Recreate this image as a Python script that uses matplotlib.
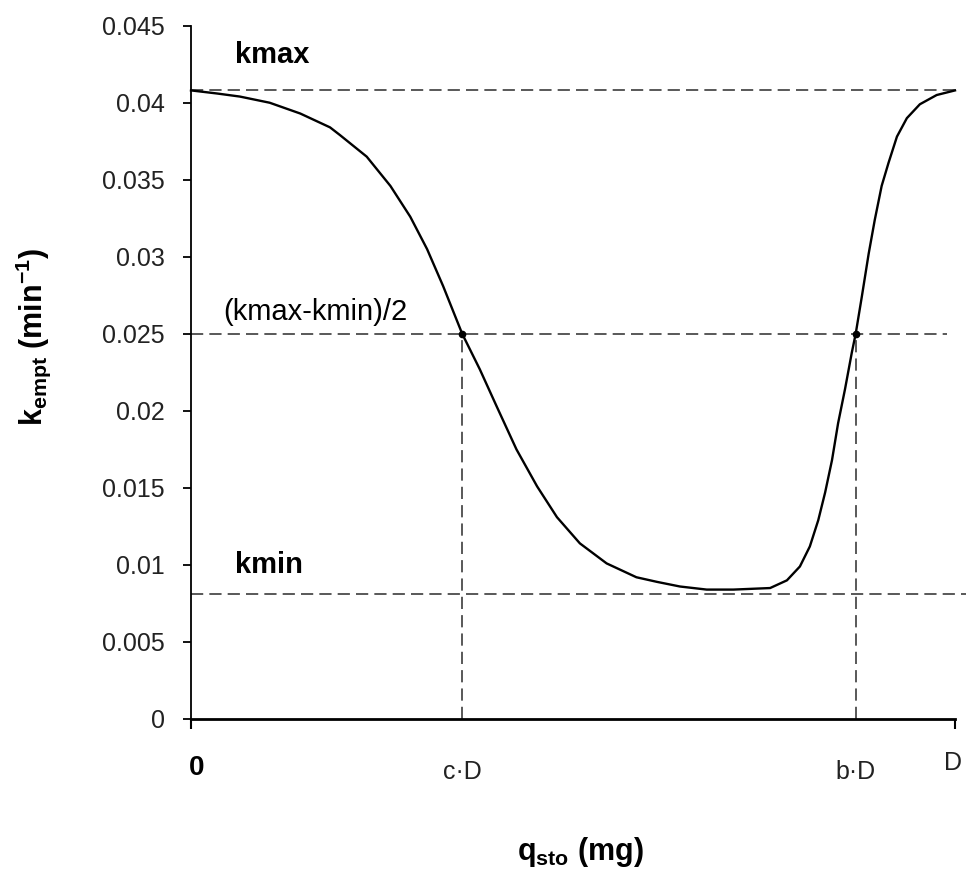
import matplotlib
matplotlib.use("Agg")
import matplotlib.pyplot as plt

plt.rcParams['font.family'] = ['Liberation Sans', 'DejaVu Sans']
plt.rcParams['mathtext.fontset'] = 'custom'
plt.rcParams['mathtext.rm'] = 'Liberation Sans:bold'
plt.rcParams['mathtext.bf'] = 'Liberation Sans:bold'
plt.rcParams['mathtext.default'] = 'rm'

# values, x as a fraction of D
q_frac = [0.000, 0.034, 0.064, 0.103, 0.143, 0.182, 0.195, 0.230, 0.261, 0.287,
          0.309, 0.330, 0.355, 0.378, 0.400, 0.426, 0.453, 0.479, 0.509, 0.544,
          0.583, 0.610, 0.640, 0.675, 0.710, 0.758, 0.780, 0.797, 0.810, 0.821,
          0.830, 0.839, 0.847, 0.856, 0.865, 0.870, 0.878, 0.887, 0.895, 0.904,
          0.913, 0.924, 0.937, 0.954, 0.976, 1.000]
k_empt = [0.0408, 0.0406, 0.0404, 0.0400, 0.0393, 0.0384, 0.0379, 0.0365, 0.0346, 0.0326,
          0.0305, 0.0281, 0.0250, 0.0227, 0.0203, 0.0175, 0.0151, 0.0131, 0.0114, 0.0101,
          0.0092, 0.0089, 0.0086, 0.0084, 0.0084, 0.0085, 0.0090, 0.0099, 0.0112, 0.0129,
          0.0147, 0.0168, 0.0192, 0.0214, 0.0238, 0.0250, 0.0274, 0.0302, 0.0324, 0.0346,
          0.0361, 0.0378, 0.0390, 0.0399, 0.0405, 0.0408]

kmax = 0.0408
kmin = 0.0081
khalf = 0.025
c_frac = 0.355
b_frac = 0.870

yticks = [0, 0.005, 0.01, 0.015, 0.02, 0.025, 0.03, 0.035, 0.04, 0.045]
ytick_labels = ['0', '0.005', '0.01', '0.015', '0.02', '0.025', '0.03', '0.035', '0.04', '0.045']

fig = plt.figure(figsize=(9.67, 8.71), dpi=100)
ax = fig.add_axes([191 / 967, 1 - 719 / 871, (955 - 191) / 967, (719 - 25.7) / 871])

dash_kw = dict(color='#2b2b2b', lw=1.1, dashes=(8, 4))
ax.plot([0, 1.0], [kmax, kmax], clip_on=False, **dash_kw)
ax.plot([0, 0.99], [khalf, khalf], clip_on=False, **dash_kw)
ax.plot([0, 1.015], [kmin, kmin], clip_on=False, **dash_kw)
ax.plot([c_frac, c_frac], [0, khalf], **dash_kw)
ax.plot([b_frac, b_frac], [0, khalf], **dash_kw)

ax.plot(q_frac, k_empt, color='black', lw=1.7, solid_joinstyle='round', clip_on=False)
ax.plot([c_frac, b_frac], [khalf, khalf], 'o', color='black', ms=4.5)

ax.set_xlim(0, 1)
ax.set_ylim(0, 0.045)
ax.spines['top'].set_visible(False)
ax.spines['right'].set_visible(False)
ax.spines['left'].set_linewidth(1.3)
ax.spines['bottom'].set_linewidth(2.0)

ax.set_yticks(yticks)
ax.set_yticklabels(ytick_labels)
ax.tick_params(axis='y', direction='out', length=6, width=1.3, pad=13,
               labelsize=18, labelcolor='#222222')
ax.set_xticks([0, 1])
ax.set_xticklabels(['', ''])
ax.tick_params(axis='x', direction='out', length=7, width=1.5)

# x-axis category labels
xlab_tr = ax.get_xaxis_transform()
ax.text(0.008, -0.07, '0', transform=xlab_tr, ha='center', va='center',
        fontsize=20, fontweight='bold')
ax.text(c_frac, -0.077, 'c·D', transform=xlab_tr, ha='center', va='center',
        fontsize=18, color='#222222')
ax.text(b_frac, -0.077, 'b·D', transform=xlab_tr, ha='center', va='center',
        fontsize=18, color='#222222')
ax.text(0.997, -0.064, 'D', transform=xlab_tr, ha='center', va='center',
        fontsize=18, color='#222222')

# annotations
ax.text(0.057, 0.0431, 'kmax', ha='left', va='center', fontsize=21, fontweight='bold')
ax.text(0.042, 0.0264, '(kmax-kmin)/2', ha='left', va='center', fontsize=21)
ax.text(0.058, 0.0100, 'kmin', ha='left', va='center', fontsize=21, fontweight='bold')

fig.text(33 / 967, 1 - 337 / 871, r'k$_{empt}$ (min$^{-1}$)', rotation=90,
         ha='center', va='center', fontsize=22, fontweight='bold')
fig.text(580 / 967, 1 - 852 / 871, r'q$_{sto}$ (mg)',
         ha='center', va='center', fontsize=22, fontweight='bold')

fig.savefig('out.png', dpi=100)
